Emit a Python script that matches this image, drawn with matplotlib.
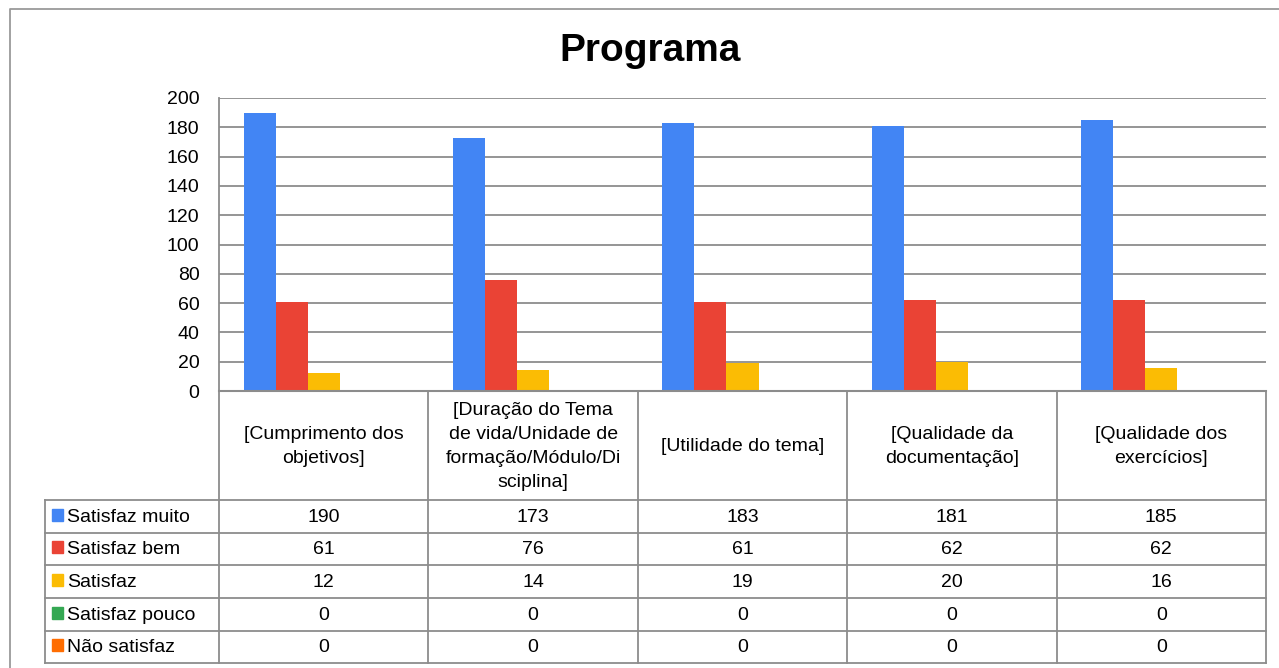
import numpy as np
import matplotlib
matplotlib.use("Agg")
import matplotlib.pyplot as plt
from matplotlib.patches import Rectangle

plt.rcParams['font.family'] = ['Liberation Sans', 'DejaVu Sans']

# =========================
# DATA
# =========================
title = "Programa"
categories = [
    "[Cumprimento dos\nobjetivos]",
    "[Duração do Tema\nde vida/Unidade de\nformação/Módulo/Di\nsciplina]",
    "[Utilidade do tema]",
    "[Qualidade da\ndocumentação]",
    "[Qualidade dos\nexercícios]",
]
series_names = ["Satisfaz muito", "Satisfaz bem", "Satisfaz", "Satisfaz pouco", "Não satisfaz"]
satisfaz_muito = [190, 173, 183, 181, 185]
satisfaz_bem = [61, 76, 61, 62, 62]
satisfaz = [12, 14, 19, 20, 16]
satisfaz_pouco = [0, 0, 0, 0, 0]
nao_satisfaz = [0, 0, 0, 0, 0]
series_values = [satisfaz_muito, satisfaz_bem, satisfaz, satisfaz_pouco, nao_satisfaz]
colors = ["#4285F4", "#EA4335", "#FBBC04", "#34A853", "#FF6D01"]
yticks = [0, 20, 40, 60, 80, 100, 120, 140, 160, 180, 200]

# =========================
# LAYOUT (pixels)
# =========================
W, H = 1279, 668
PX0, PX1 = 219, 1266     # plot area left/right
PY_TOP, PY_BOT = 98, 391 # plot area top/bottom
ROW_Y = [391, 500, 533, 565, 598, 631, 663]
LABEL_X = 45
GRID = "#8c8c8c"
FS = 14

fig = plt.figure(figsize=(W / 100, H / 100), dpi=100)

ax = fig.add_axes([PX0 / W, (H - PY_BOT) / H, (PX1 - PX0) / W, (PY_BOT - PY_TOP) / H])
n = len(categories)
x = np.arange(n)
bw = 0.153
for k, vals in enumerate(series_values):
    ax.bar(x + (k - 2) * bw, vals, width=bw, color=colors[k], zorder=3)

ax.set_xlim(-0.5, n - 0.5)
ax.set_ylim(0, 200)
ax.set_yticks(yticks)
ax.set_xticks([])
ax.tick_params(axis="y", length=0, pad=14, labelsize=FS)
ax.yaxis.grid(True, color=GRID, linewidth=1.3, zorder=0)
for s in ["top", "right", "bottom"]:
    ax.spines[s].set_visible(False)
ax.spines["left"].set_color(GRID)
ax.spines["left"].set_linewidth(1.3)

# overlay in pixel coordinates for the data table and frame
ov = fig.add_axes([0, 0, 1, 1], facecolor="none")
ov.set_xlim(0, W)
ov.set_ylim(H, 0)
ov.axis("off")

# outer chart frame
ov.plot([10, 10, W], [H, 9, 9], color="#9a9a9a", lw=1.3)

ov.text(W / 2 + 11, 51, title, ha="center", va="center", fontsize=28, fontweight="bold")

cw = (PX1 - PX0) / n
col_x = [PX0 + i * cw for i in range(n + 1)]

# horizontal table lines
ov.plot([PX0, PX1], [ROW_Y[0], ROW_Y[0]], color=GRID, lw=1.5)
for y in ROW_Y[1:]:
    ov.plot([LABEL_X, PX1], [y, y], color=GRID, lw=1.3)
# vertical table lines
ov.plot([LABEL_X, LABEL_X], [ROW_Y[1], ROW_Y[-1]], color=GRID, lw=1.3)
for cx in col_x:
    ov.plot([cx, cx], [ROW_Y[0], ROW_Y[-1]], color=GRID, lw=1.3)

# header cells
for i, cat in enumerate(categories):
    ov.text((col_x[i] + col_x[i + 1]) / 2, (ROW_Y[0] + ROW_Y[1]) / 2 + 1, cat,
            ha="center", va="center", fontsize=FS, linespacing=1.55)

# data rows
for k, name in enumerate(series_names):
    y0, y1 = ROW_Y[k + 1], ROW_Y[k + 2]
    ym = (y0 + y1) / 2
    ov.add_patch(Rectangle((52, ym - 8), 11, 12, color=colors[k]))
    ov.text(67, ym + 1, name, ha="left", va="center", fontsize=FS)
    for i in range(n):
        ov.text((col_x[i] + col_x[i + 1]) / 2, ym + 1, str(series_values[k][i]),
                ha="center", va="center", fontsize=FS)

fig.savefig("out.png", dpi=100)
